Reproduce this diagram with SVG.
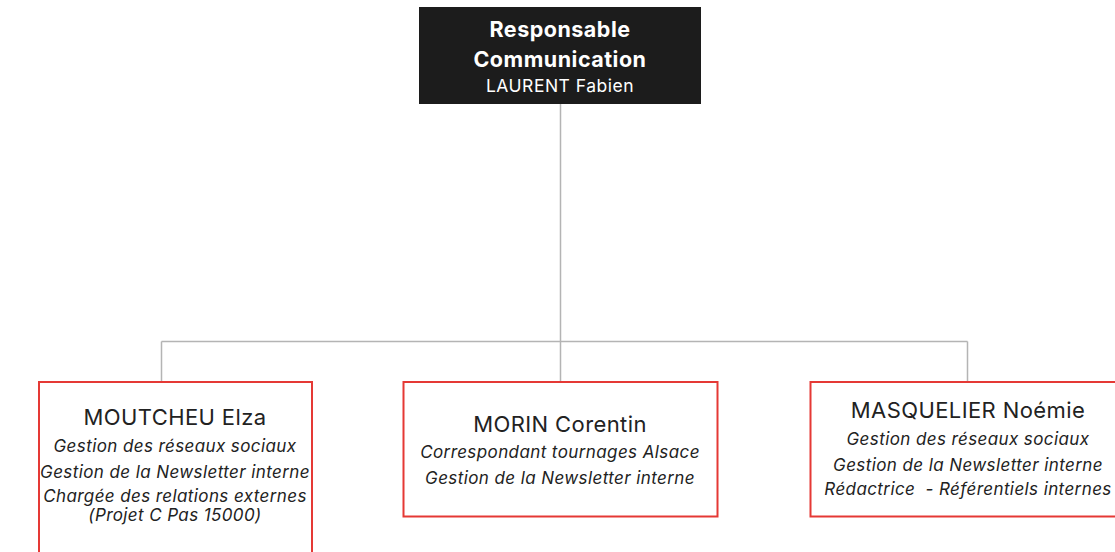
<svg xmlns="http://www.w3.org/2000/svg" width="1115" height="552" viewBox="0 0 1115 552">
<style>
.conn{stroke:#b4b4b4;stroke-width:1.5;fill:none}
.card{fill:#fff;stroke:#e53935;stroke-width:2}
.t{font-family:Inter,"Liberation Sans",sans-serif;text-anchor:middle;fill:#222}
.name{font-size:22px;letter-spacing:0.4px}
.role{font-size:17px;font-style:italic;letter-spacing:0.4px}
.head{font-family:Inter,"Liberation Sans",sans-serif;text-anchor:middle;fill:#fff}
.hb{font-size:21.5px;font-weight:700;letter-spacing:0.5px}
.hn{font-size:17.5px;letter-spacing:0.5px}
</style>
<rect width="1115" height="552" fill="#fff"/>
<g id="connectors">
<path class="conn" d="M560.5 104V341.5M161.5 341.5H967.5M161.5 341.5V381M560.5 341.5V381M967.5 341.5V381"/>
</g>
<g id="node-head">
<rect x="419" y="7" width="282" height="97" fill="#1c1c1c"/>
<text class="head hb" x="560" y="37">Responsable</text>
<text class="head hb" x="560" y="67">Communication</text>
<text class="head hn" x="560" y="92">LAURENT Fabien</text>
</g>
<g id="node-moutcheu">
<rect class="card" x="39" y="382" width="273" height="180"/>
<text class="t name" x="175" y="425">MOUTCHEU Elza</text>
<text class="t role" x="175" y="452">Gestion des réseaux sociaux</text>
<text class="t role" x="175" y="478">Gestion de la Newsletter interne</text>
<text class="t role" x="175" y="502">Chargée des relations externes</text>
<text class="t role" x="175" y="521">(Projet C Pas 15000)</text>
</g>
<g id="node-morin">
<rect class="card" x="403.5" y="382" width="314" height="134.5"/>
<text class="t name" x="560" y="432">MORIN Corentin</text>
<text class="t role" x="560" y="458">Correspondant tournages Alsace</text>
<text class="t role" x="560" y="484">Gestion de la Newsletter interne</text>
</g>
<g id="node-masquelier">
<rect class="card" x="810.5" y="382" width="314" height="134.5"/>
<text class="t name" x="968" y="418">MASQUELIER Noémie</text>
<text class="t role" x="968" y="445">Gestion des réseaux sociaux</text>
<text class="t role" x="968" y="471">Gestion de la Newsletter interne</text>
<text class="t role" x="968" y="495" xml:space="preserve">Rédactrice  - Référentiels internes</text>
</g>
</svg>
